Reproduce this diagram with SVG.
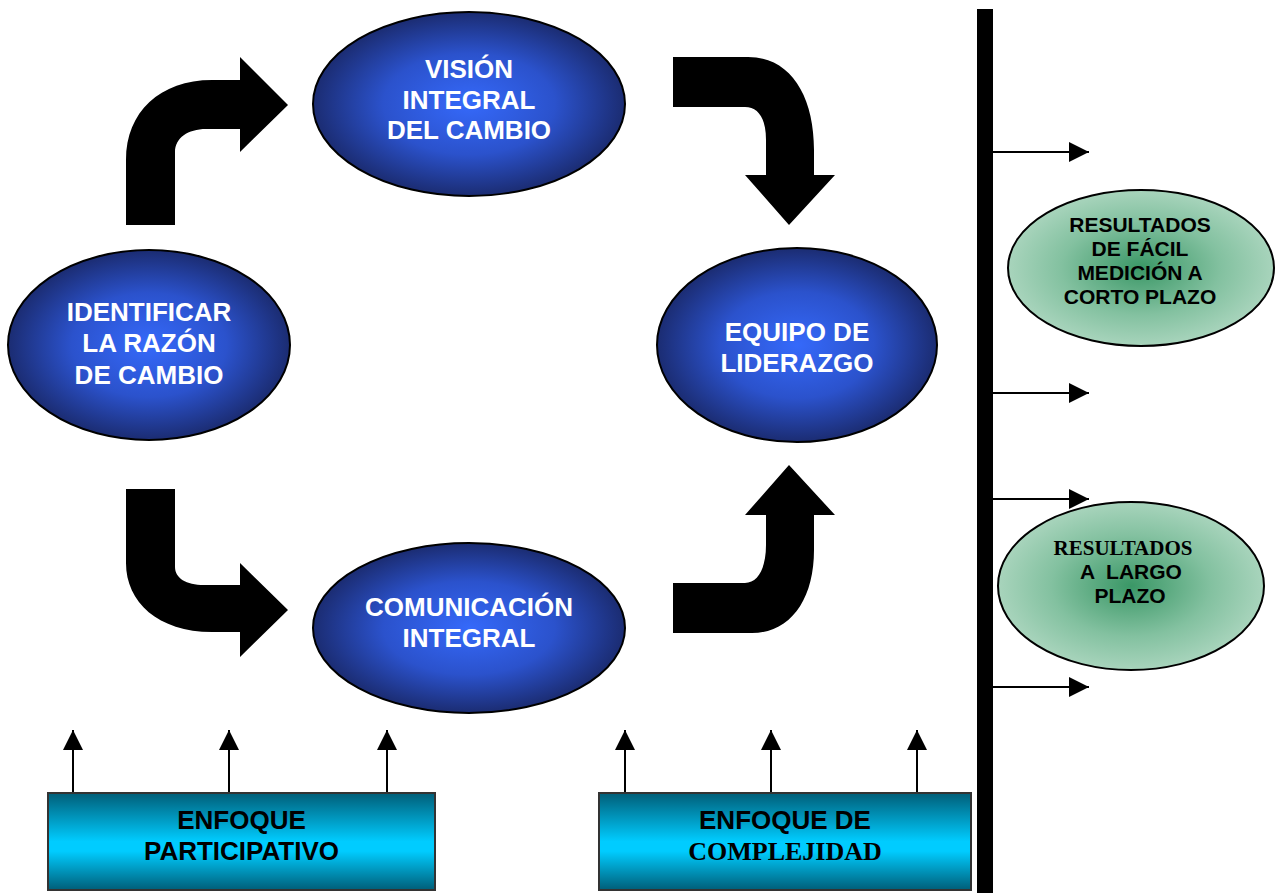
<svg xmlns="http://www.w3.org/2000/svg" width="1283" height="893" viewBox="0 0 1283 893">
<defs>
<radialGradient id="gBlue" cx="50%" cy="50%" r="50%">
<stop offset="0" stop-color="#3569FA"/>
<stop offset="0.55" stop-color="#2B52CC"/>
<stop offset="1" stop-color="#1B2C72"/>
</radialGradient>
<radialGradient id="gGreen" cx="50%" cy="50%" r="50%">
<stop offset="0" stop-color="#3A9766"/>
<stop offset="0.6" stop-color="#83C1A0"/>
<stop offset="1" stop-color="#A8D4BC"/>
</radialGradient>
<linearGradient id="gBox" x1="0" y1="0" x2="0" y2="1">
<stop offset="0" stop-color="#005E78"/>
<stop offset="0.5" stop-color="#00CCFF"/>
<stop offset="0.6" stop-color="#00CCFF"/>
<stop offset="1" stop-color="#005E78"/>
</linearGradient>
<marker id="ah" viewBox="0 0 20 20" refX="20" refY="10" markerWidth="20" markerHeight="20" markerUnits="userSpaceOnUse" orient="auto">
<path d="M0,0 L20,10 L0,20 Z" fill="#000"/>
</marker>
<style>
.blue{fill:url(#gBlue);stroke:#000;stroke-width:2}
.green{fill:url(#gGreen);stroke:#000;stroke-width:2}
.box{fill:url(#gBox);stroke:#333;stroke-width:2}
.wt{font-family:"Liberation Sans",Arial,sans-serif;font-weight:bold;font-size:26px;fill:#fff;text-anchor:middle}
.bt{font-family:"Liberation Sans",Arial,sans-serif;font-weight:bold;font-size:26px;fill:#000;text-anchor:middle}
.gt{font-family:"Liberation Sans",Arial,sans-serif;font-weight:bold;font-size:21px;fill:#000;text-anchor:middle}
.serif{font-family:"Liberation Serif","Times New Roman",serif;font-weight:bold}
.thin{stroke:#000;stroke-width:2;fill:none;marker-end:url(#ah)}
.bent{fill:#000}
</style>
</defs>

<g id="connectors">
<path class="bent" d="M126,225 L126,160 C126,112 160,80 212,80 L240,80 L240,57 L288,105 L240,152 L240,129 L206,129 C188,129 175,138 175,152 L175,225 Z"/>
<path class="bent" d="M673,57 L748,57 C790,57 814,95 814,150 L814,175 L835,175 L789,225 L745,175 L766,175 L766,140 C766,118 758,107 745,107 L673,107 Z"/>
<path class="bent" d="M126,489 L126,563 C126,602 158,632 212,632 L240,632 L240,657 L288,610 L240,563 L240,585 L204,585 C186,585 175,578 175,567 L175,489 Z"/>
<path class="bent" d="M673,633 L752,633 C790,633 814,600 814,550 L814,515 L835,515 L789,465 L745,515 L766,515 L766,545 C766,568 758,583 745,583 L673,583 Z"/>
<rect x="977" y="9" width="16" height="884" fill="#000"/>
<line class="thin" x1="993" y1="152" x2="1089" y2="152"/>
<line class="thin" x1="993" y1="393" x2="1089" y2="393"/>
<line class="thin" x1="993" y1="499" x2="1089" y2="499"/>
<line class="thin" x1="993" y1="687" x2="1089" y2="687"/>
<line class="thin" x1="73" y1="793" x2="73" y2="730"/>
<line class="thin" x1="229" y1="793" x2="229" y2="730"/>
<line class="thin" x1="387" y1="793" x2="387" y2="730"/>
<line class="thin" x1="625" y1="793" x2="625" y2="730"/>
<line class="thin" x1="771" y1="793" x2="771" y2="730"/>
<line class="thin" x1="917" y1="793" x2="917" y2="730"/>
</g>

<g id="vision">
<ellipse class="blue" cx="469" cy="104" rx="156" ry="92"/>
<text class="wt" x="469" y="78">VISIÓN</text>
<text class="wt" x="469" y="109">INTEGRAL</text>
<text class="wt" x="469" y="139">DEL CAMBIO</text>
</g>

<g id="identificar">
<ellipse class="blue" cx="149" cy="345" rx="141" ry="95"/>
<text class="wt" x="149" y="321">IDENTIFICAR</text>
<text class="wt" x="149" y="352">LA RAZÓN</text>
<text class="wt" x="149" y="384">DE CAMBIO</text>
</g>

<g id="equipo">
<ellipse class="blue" cx="797" cy="345" rx="140" ry="97"/>
<text class="wt" x="797" y="341">EQUIPO DE</text>
<text class="wt" x="797" y="372">LIDERAZGO</text>
</g>

<g id="comunicacion">
<ellipse class="blue" cx="469" cy="628" rx="156" ry="85"/>
<text class="wt" x="469" y="616">COMUNICACIÓN</text>
<text class="wt" x="469" y="647">INTEGRAL</text>
</g>

<g id="corto">
<ellipse class="green" cx="1141" cy="268" rx="133" ry="78"/>
<text class="gt" x="1140" y="232">RESULTADOS</text>
<text class="gt" x="1140" y="256">DE FÁCIL</text>
<text class="gt" x="1140" y="280">MEDICIÓN A</text>
<text class="gt" x="1140" y="304">CORTO PLAZO</text>
</g>

<g id="largo">
<ellipse class="green" cx="1131" cy="586" rx="133" ry="84"/>
<text class="gt serif" x="1123" y="555">RESULTADOS</text>
<text class="gt" x="1131" y="579" xml:space="preserve">A  LARGO</text>
<text class="gt" x="1130" y="603">PLAZO</text>
</g>

<g id="participativo">
<rect class="box" x="48" y="793" width="387" height="97"/>
<text class="bt" x="241.5" y="829">ENFOQUE</text>
<text class="bt" x="241.5" y="860">PARTICIPATIVO</text>
</g>

<g id="complejidad">
<rect class="box" x="599" y="793" width="372" height="97"/>
<text class="bt" x="785" y="829">ENFOQUE DE</text>
<text class="bt serif" x="785" y="860">COMPLEJIDAD</text>
</g>
</svg>
